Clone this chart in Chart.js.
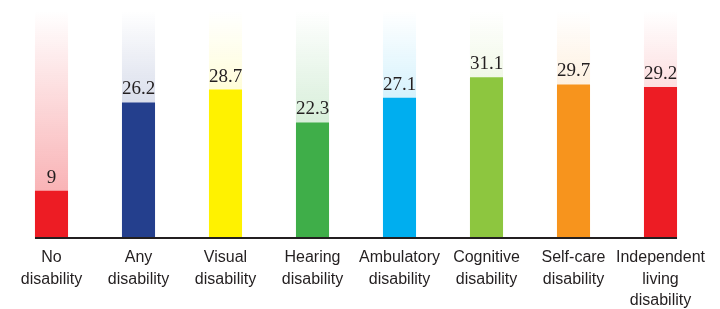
<!DOCTYPE html>
<html>
<head>
<meta charset="utf-8">
<script src="https://cdn.jsdelivr.net/npm/chart.js@4"></script>
<style>
  html, body { margin: 0; padding: 0; background: #fff; }
  #wrap { width: 720px; height: 309px; }
</style>
</head>
<body>
<div id="wrap"><canvas id="chart"></canvas></div>
<script>
// categories (multi-line tick labels)
const categories = [
  ["No", "disability"],
  ["Any", "disability"],
  ["Visual", "disability"],
  ["Hearing", "disability"],
  ["Ambulatory", "disability"],
  ["Cognitive", "disability"],
  ["Self-care", "disability"],
  ["Independent", "living", "disability"],
];
const values = [9, 26.2, 28.7, 22.3, 27.1, 31.1, 29.7, 29.2];
const barColors = [
  "#ed1c24", "#243f8d", "#fff200", "#3fae49",
  "#00aeef", "#8dc63f", "#f7941d", "#ed1c24",
];
const yMax = 44;
const columnTops = values.map(() => yMax);

function hexToRgb(hex) {
  const n = parseInt(hex.slice(1), 16);
  return [(n >> 16) & 255, (n >> 8) & 255, n & 255];
}

// faded column behind every bar
function columnFill(ctx) {
  const chart = ctx.chart;
  const area = chart.chartArea;
  const col = barColors[ctx.dataIndex] || "#ccc";
  if (!area) return col;
  const [r, g, b] = hexToRgb(col);
  const grad = chart.ctx.createLinearGradient(0, area.bottom, 0, area.top);
  grad.addColorStop(0, `rgba(${r},${g},${b},0.42)`);
  grad.addColorStop(1, `rgba(${r},${g},${b},0)`);
  return grad;
}

// value labels + baseline from first bar to last bar
const extras = {
  id: "extras",
  afterDatasetsDraw(chart) {
    const ctx = chart.ctx;
    const bars = chart.getDatasetMeta(1).data;
    ctx.save();
    ctx.font = "19px 'Liberation Serif', 'Times New Roman', serif";
    ctx.fillStyle = "#231f20";
    ctx.textAlign = "center";
    ctx.textBaseline = "alphabetic";
    bars.forEach((bar, i) => {
      ctx.fillText(String(values[i]), bar.x, bar.y - 8);
    });
    const first = bars[0], last = bars[bars.length - 1];
    const y = chart.scales.y.getPixelForValue(0);
    ctx.strokeStyle = "#231f20";
    ctx.lineWidth = 2;
    ctx.beginPath();
    ctx.moveTo(first.x - first.width / 2, y + 1);
    ctx.lineTo(last.x + last.width / 2, y + 1);
    ctx.stroke();
    ctx.restore();
  },
};

new Chart(document.getElementById("chart"), {
  type: "bar",
  data: {
    labels: categories,
    datasets: [
      {
        data: columnTops,
        backgroundColor: columnFill,
        grouped: false,
        order: 2,
      },
      {
        data: values,
        backgroundColor: barColors,
        grouped: false,
        order: 1,
      },
    ],
  },
  options: {
    responsive: true,
    maintainAspectRatio: false,
    animation: false,
    barPercentage: 0.38,
    categoryPercentage: 1,
    layout: { padding: { top: 11, left: 8, right: 16, bottom: 0 } },
    plugins: { legend: { display: false }, tooltip: { enabled: false } },
    scales: {
      x: {
        grid: { display: false, drawTicks: false },
        border: { display: false },
        afterFit: (scale) => { scale.height = 72; },
        ticks: {
          color: "#231f20",
          padding: 10,
          maxRotation: 0,
          autoSkip: false,
          font: { family: "'Liberation Sans', Arial, sans-serif", size: 16, lineHeight: 1.35 },
        },
      },
      y: {
        display: false,
        min: 0,
        max: yMax,
      },
    },
  },
  plugins: [extras],
});
</script>
</body>
</html>
